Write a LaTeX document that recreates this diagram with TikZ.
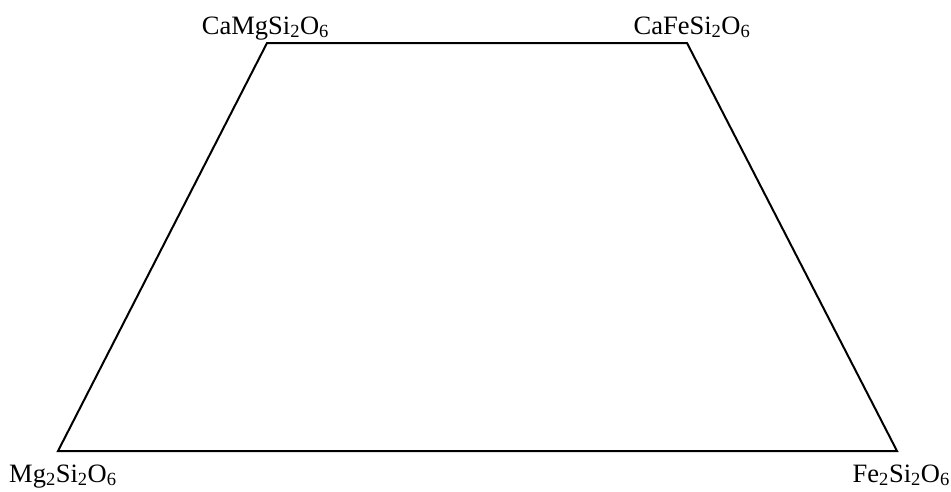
\documentclass[tikz,border=0pt]{standalone}
\usepackage{fontspec}
\setmainfont{Liberation Serif}
\tikzset{
  edge/.style={line width=2pt, line join=miter},
  mineral/.style={inner sep=0pt, font=\fontsize{26.5}{30}\selectfont}
}
\begin{document}
\begin{tikzpicture}[x=1pt,y=-1pt]
  \useasboundingbox (0,0) rectangle (951,491);
  % corners of the pyroxene quadrilateral
  \coordinate (di) at (267,43);
  \coordinate (hd) at (687,43);
  \coordinate (en) at (58,451);
  \coordinate (fs) at (897,451);
  \draw[edge] (en) -- (di) -- (hd) -- (fs) -- cycle;
  % end-member labels
  \node[mineral, anchor=base] (ldi) at (265.5,34) {CaMgSi\textsubscript{2}O\textsubscript{6}};
  \node[mineral, anchor=base] (lhd) at (692,34) {CaFeSi\textsubscript{2}O\textsubscript{6}};
  \node[mineral, anchor=base west] (len) at (9,482) {Mg\textsubscript{2}Si\textsubscript{2}O\textsubscript{6}};
  \node[mineral, anchor=base east] (lfs) at (950,482) {Fe\textsubscript{2}Si\textsubscript{2}O\textsubscript{6}};
\end{tikzpicture}
\end{document}
